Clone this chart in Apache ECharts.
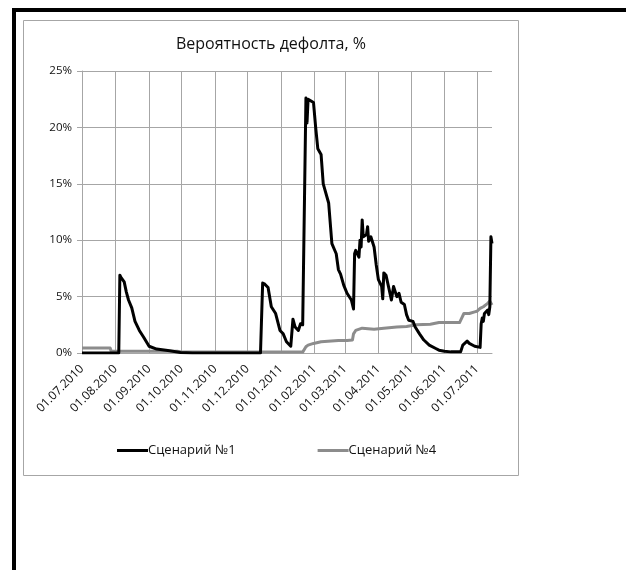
<!DOCTYPE html>
<html>
<head>
<meta charset="utf-8">
<script src="https://cdn.jsdelivr.net/npm/echarts@6/dist/echarts.min.js"></script>
<style>
  html, body { margin: 0; padding: 0; background: #fff; }
  #wrap { position: relative; width: 626px; height: 570px; overflow: hidden; }
  #edge { position: absolute; left: 12px; top: 8px; right: 0; bottom: 0;
          border-left: 4px solid #000; border-top: 4px solid #000; }
  #chart { position: absolute; left: 0; top: 0; width: 626px; height: 570px; }
</style>
</head>
<body>
<div id="wrap">
  <div id="edge"></div>
  <div id="chart"></div>
</div>
<script>
// Axis span (daily calendar)
const firstDay = '2010-07-01';
const lastDay = '2011-07-15';

const titleText = 'Вероятность дефолта, %';
const seriesNames = ['Сценарий №1', 'Сценарий №4'];
const yTicks = [0, 5, 10, 15, 20, 25];

// Сценарий №1 — dates and default probability, %
const dates1 = ['01.07.2010','04.08.2010','05.08.2010','06.08.2010','09.08.2010','11.08.2010','13.08.2010','16.08.2010','19.08.2010','23.08.2010','27.08.2010','01.09.2010','08.09.2010','20.09.2010','30.09.2010','11.10.2010','13.12.2010','15.12.2010','17.12.2010','20.12.2010','23.12.2010','27.12.2010','31.12.2010','03.01.2011','06.01.2011','10.01.2011','12.01.2011','14.01.2011','17.01.2011','19.01.2011','21.01.2011','24.01.2011','25.01.2011','26.01.2011','31.01.2011','02.02.2011','04.02.2011','07.02.2011','09.02.2011','14.02.2011','17.02.2011','21.02.2011','23.02.2011','25.02.2011','28.02.2011','03.03.2011','07.03.2011','09.03.2011','10.03.2011','11.03.2011','14.03.2011','15.03.2011','16.03.2011','17.03.2011','18.03.2011','21.03.2011','22.03.2011','23.03.2011','25.03.2011','28.03.2011','30.03.2011','01.04.2011','04.04.2011','05.04.2011','06.04.2011','08.04.2011','11.04.2011','13.04.2011','15.04.2011','18.04.2011','20.04.2011','22.04.2011','25.04.2011','27.04.2011','29.04.2011','03.05.2011','05.05.2011','09.05.2011','13.05.2011','18.05.2011','24.05.2011','27.05.2011','01.06.2011','07.06.2011','16.06.2011','18.06.2011','22.06.2011','24.06.2011','29.06.2011','04.07.2011','05.07.2011','06.07.2011','07.07.2011','08.07.2011','11.07.2011','12.07.2011','13.07.2011','14.07.2011','15.07.2011'];
const values1 = [0,0,6.9,6.7,6.3,5.4,4.7,4.0,2.8,2.0,1.4,0.6,0.35,0.2,0.05,0,0,6.2,6.1,5.8,4.1,3.5,2.0,1.7,1.0,0.6,3.0,2.3,2.0,2.6,2.5,22.6,20.4,22.5,22.2,20.0,18.1,17.6,15.0,13.3,9.7,8.8,7.4,7.0,6.0,5.3,4.7,3.9,8.8,9.1,8.5,10.0,9.4,11.8,10.3,10.5,11.2,9.9,10.3,9.4,7.8,6.5,5.9,4.8,7.1,6.9,5.6,4.7,5.9,5.0,5.3,4.5,4.3,3.4,2.9,2.8,2.3,1.7,1.15,0.7,0.4,0.25,0.15,0.1,0.1,0.7,1.05,0.85,0.6,0.5,2.6,3.1,2.8,3.5,3.8,3.4,4.1,10.3,9.7];

// Сценарий №4 — dates and default probability, %
const dates4 = ['01.07.2010','27.07.2010','28.07.2010','27.09.2010','01.10.2010','21.01.2011','24.01.2011','26.01.2011','31.01.2011','07.02.2011','23.02.2011','03.03.2011','08.03.2011','09.03.2011','11.03.2011','17.03.2011','28.03.2011','06.04.2011','18.04.2011','27.04.2011','06.05.2011','19.05.2011','27.05.2011','15.06.2011','16.06.2011','19.06.2011','24.06.2011','29.06.2011','01.07.2011','04.07.2011','05.07.2011','07.07.2011','11.07.2011','13.07.2011','15.07.2011'];
const values4 = [0.45,0.45,0.15,0.15,0.08,0.08,0.55,0.7,0.85,1.0,1.1,1.1,1.15,1.7,2.0,2.2,2.1,2.2,2.3,2.35,2.5,2.55,2.7,2.7,2.9,3.5,3.5,3.65,3.7,3.95,3.8,4.1,4.4,4.6,4.25];

// Daily category labels dd.mm.yyyy
function fmt(d) {
  const dd = String(d.getUTCDate()).padStart(2, '0');
  const mm = String(d.getUTCMonth() + 1).padStart(2, '0');
  return dd + '.' + mm + '.' + d.getUTCFullYear();
}
const days = [];
for (let t = Date.parse(firstDay + 'T00:00:00Z'); t <= Date.parse(lastDay + 'T00:00:00Z'); t += 86400000) {
  days.push(fmt(new Date(t)));
}
const monthStart = (i, v) => v.slice(0, 3) === '01.';

const pairs = (ds, vs) => ds.map((d, i) => [d, vs[i]]);

const GRID = '#a6a6a6';
const FONT = 'Open Sans';

const chart = echarts.init(document.getElementById('chart'), null, { renderer: 'canvas' });
chart.setOption({
  animation: false,
  backgroundColor: 'transparent',
  textStyle: { fontFamily: FONT },
  title: {
    text: titleText,
    left: 266, top: 31, textAlign: 'center',
    textStyle: { fontFamily: FONT, fontSize: 16, fontWeight: 'normal', color: '#111' }
  },
  graphic: [{
    type: 'rect',
    shape: { x: 23.5, y: 20.5, width: 495, height: 455 },
    style: { fill: 'none', stroke: GRID, lineWidth: 1 },
    silent: true, z: -1
  }],
  legend: {
    left: 112, top: 439,
    itemWidth: 31, itemHeight: 3, itemGap: 82,
    icon: 'rect',
    textStyle: { fontFamily: FONT, fontSize: 13, color: '#111', padding: [0, 0, 0, -5] },
    data: seriesNames
  },
  grid: { left: 82, right: 134, top: 71, bottom: 217, containLabel: false },
  xAxis: {
    type: 'category',
    data: days,
    boundaryGap: false,
    axisLine: { show: true, lineStyle: { color: GRID, width: 1 } },
    axisTick: { show: false },
    axisLabel: {
      interval: monthStart,
      rotate: 45, margin: 14,
      fontFamily: FONT, fontSize: 12, color: '#111'
    },
    splitLine: { show: true, interval: monthStart, lineStyle: { color: GRID, width: 1 } }
  },
  yAxis: {
    type: 'value',
    min: yTicks[0], max: yTicks[yTicks.length - 1], interval: 5,
    axisLine: { show: true, lineStyle: { color: GRID, width: 1 } },
    axisTick: { show: true, length: 5, lineStyle: { color: GRID } },
    axisLabel: { formatter: '{value}%', margin: 10, fontFamily: FONT, fontSize: 11.5, color: '#111' },
    splitLine: { show: true, lineStyle: { color: GRID, width: 1 } }
  },
  series: [
    {
      name: seriesNames[0], type: 'line', data: pairs(dates1, values1),
      showSymbol: false, symbol: 'none', z: 3,
      lineStyle: { color: '#000', width: 3, join: 'round' },
      itemStyle: { color: '#000' }
    },
    {
      name: seriesNames[1], type: 'line', data: pairs(dates4, values4),
      showSymbol: false, symbol: 'none', z: 2,
      lineStyle: { color: '#8c8c8c', width: 3, join: 'round' },
      itemStyle: { color: '#8c8c8c' }
    }
  ]
});
</script>
</body>
</html>
